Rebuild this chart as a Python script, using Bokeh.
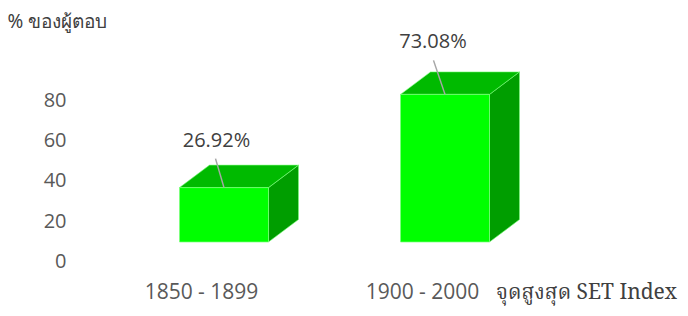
from bokeh.plotting import figure
from bokeh.models import Range1d, FixedTicker, LinearAxis
from bokeh.core.properties import value
from bokeh.embed import file_html
from bokeh.resources import INLINE

# ---- data ----
categories = ["1850 - 1899", "1900 - 2000"]
values = [26.92, 73.08]
value_labels = ["26.92%", "73.08%"]
y_ticks = [0, 20, 40, 60, 80]
y_title = "% ของผู้ตอบ"
x_title = "จุดสูงสุด SET Index"

# ---- layout constants (pixels, canvas coords) ----
SX = 221.0          # px per category step
SY = 2.02           # px per value unit
W, H = 686, 312
FL, FT, FB = 76, 33, 270
CAT0 = 201          # canvas x of first category
AXIS_ZERO = 260.7   # canvas y of axis 0
BAR_ZERO = 241.5    # canvas y of front-face base
XTITLE_CX = 586     # canvas x of x-title centre

x0 = (FL - CAT0) / SX
x_range = Range1d(x0, x0 + (W - FL) / SX)
title_range = Range1d((FL - XTITLE_CX) / SX, (W - XTITLE_CX) / SX)
ya0 = -(FB - AXIS_ZERO) / SY
yb0 = -(FB - BAR_ZERO) / SY
y_range = Range1d(ya0, ya0 + (FB - FT) / SY)
bar_range = Range1d(yb0, yb0 + (FB - FT) / SY)

FRONT_L = -22 / SX
FRONT_W = 89 / SX
DX = 30 / SX
DY = 22.5 / SY
label_dx_px = [-7.5, -12]
label_dy_px = [48, 54]
leader_top_px = [29, 34]
leader_dx_px = [-8.5, -11.5]

p = figure(width=W, height=H, x_range=x_range, y_range=y_range,
           output_backend="svg", toolbar_location=None,
           min_border_left=FL, min_border_right=0, min_border_top=FT,
           min_border_bottom=H - FB)
p.extra_y_ranges = {"bars": bar_range}
p.extra_x_ranges = {"xtitle": title_range}
p.outline_line_color = None
p.grid.visible = False

front_col = "#00FF00"
top_col = "#00BA00"
side_col = "#009E00"
edge_col = "#7DFF7D"

for i, v in enumerate(values):
    l = i + FRONT_L
    r = l + FRONT_W
    p.patch([r, r, r + DX, r + DX], [0, v, v + DY, DY], fill_color=side_col,
            line_color=edge_col, line_width=1, line_alpha=0.6, y_range_name="bars")
    p.patch([l, l + DX, r + DX, r], [v, v + DY, v + DY, v], fill_color=top_col,
            line_color=edge_col, line_width=1, line_alpha=0.6, y_range_name="bars")
    p.quad(left=[l], right=[r], bottom=[0], top=[v], fill_color=front_col,
           line_color=edge_col, line_width=1, line_alpha=0.7, y_range_name="bars")
    cx = l + FRONT_W / 2
    p.segment(x0=[cx + leader_dx_px[i] / SX], y0=[v + leader_top_px[i] / SY],
              x1=[cx], y1=[v], line_color="#A6A6A6", line_width=1.5,
              y_range_name="bars")
    p.text(x=[cx + label_dx_px[i] / SX], y=[v + label_dy_px[i] / SY],
           text=[value_labels[i]], text_align="center", text_baseline="middle",
           text_font=value("Open Sans"), text_font_size="20px",
           text_color="#404040", y_range_name="bars")

# y axis
p.yaxis.ticker = FixedTicker(ticks=y_ticks)
p.yaxis.axis_line_color = None
p.yaxis.major_tick_line_color = None
p.yaxis.minor_tick_line_color = None
p.yaxis.major_tick_out = 0
p.yaxis.major_tick_in = 0
p.yaxis.minor_tick_out = 0
p.yaxis.major_label_standoff = 10
p.yaxis.major_label_text_font = "Open Sans"
p.yaxis.major_label_text_font_size = "20px"
p.yaxis.major_label_text_color = "#595959"

# x axis (categories)
p.xaxis.ticker = FixedTicker(ticks=list(range(len(categories))))
p.xaxis.major_label_overrides = {i: c for i, c in enumerate(categories)}
p.xaxis.axis_line_color = None
p.xaxis.major_tick_line_color = None
p.xaxis.minor_tick_line_color = None
p.xaxis.major_tick_out = 0
p.xaxis.major_tick_in = 0
p.xaxis.minor_tick_out = 0
p.xaxis.major_label_standoff = 6
p.xaxis.major_label_text_font = "Open Sans"
p.xaxis.major_label_text_font_size = "21px"
p.xaxis.major_label_text_color = "#595959"

# x-axis title, on a second bottom axis pulled up beside the category labels
tax = LinearAxis(x_range_name="xtitle", ticker=FixedTicker(ticks=[0]),
                 major_label_overrides={0: x_title},
                 axis_line_color=None, major_tick_line_color=None,
                 minor_tick_line_color=None, major_tick_out=0, major_tick_in=0,
                 minor_tick_out=0, minor_tick_in=0, major_label_standoff=-31,
                 major_label_text_font="Norasi, 'Noto Serif Thai', 'Liberation Serif', serif",
                 major_label_text_font_size="21px",
                 major_label_text_color="#404040")
p.add_layout(tax, "below")

# y title as plot title
p.title.text = y_title
p.title.align = "left"
p.title.offset = 7 - FL
p.title.standoff = 0
p.title.text_font = "Noto Sans"
p.title.text_font_size = "19px"
p.title.text_font_style = "normal"
p.title.text_color = "#404040"

open("out.html", "w").write(file_html(p, INLINE))
